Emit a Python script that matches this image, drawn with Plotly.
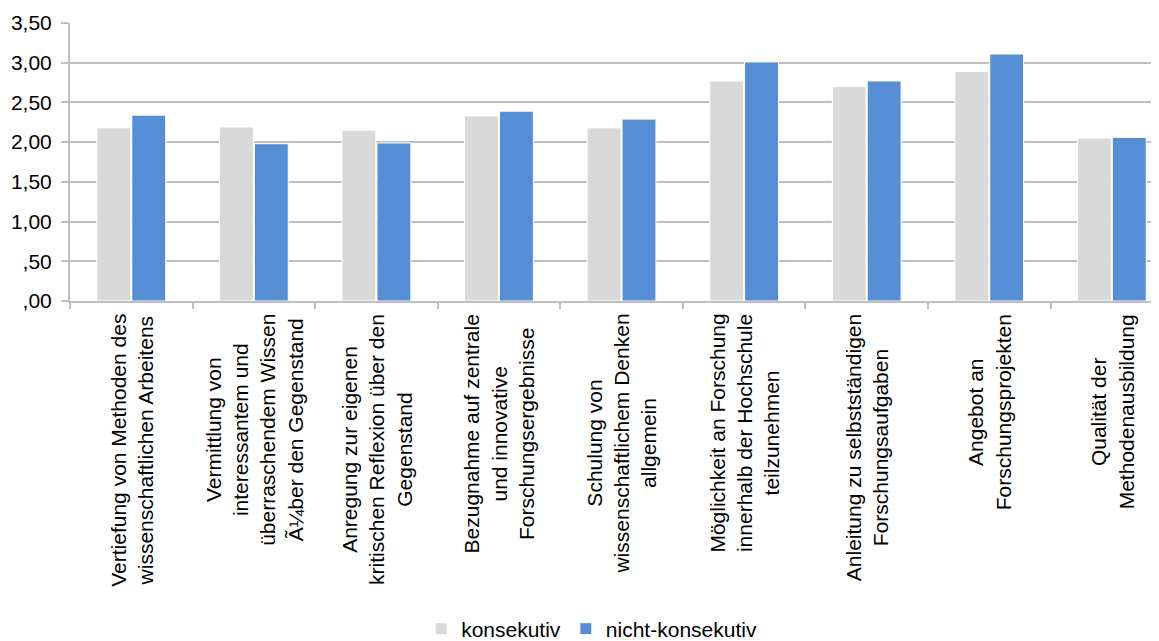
import plotly.graph_objects as go

categories = [
    "Vertiefung von Methoden des<br>wissenschaftlichen Arbeitens",
    "Vermittlung von<br>interessantem und<br>überraschendem Wissen<br>Ã¼ber den Gegenstand",
    "Anregung zur eigenen<br>kritischen Reflexion über den<br>Gegenstand",
    "Bezugnahme auf zentrale<br>und innovative<br>Forschungsergebnisse",
    "Schulung von<br>wissenschaftlichem Denken<br>allgemein",
    "Möglichkeit an Forschung<br>innerhalb der Hochschule<br>teilzunehmen",
    "Anleitung zu selbstständigen<br>Forschungsaufgaben",
    "Angebot an<br>Forschungsprojekten",
    "Qualität der<br>Methodenausbildung",
]
konsekutiv = [2.18, 2.19, 2.15, 2.33, 2.18, 2.77, 2.70, 2.89, 2.05]
nicht_konsekutiv = [2.34, 1.98, 1.99, 2.39, 2.29, 3.01, 2.77, 3.11, 2.06]

y_tickvals = [0, 0.5, 1.0, 1.5, 2.0, 2.5, 3.0, 3.5]
y_ticktext = [",00", ",50", "1,00", "1,50", "2,00", "2,50", "3,00", "3,50"]

FONT = "Liberation Sans, Arial, sans-serif"

fig = go.Figure()
fig.add_trace(go.Bar(x=categories, y=konsekutiv, name="konsekutiv",
                     marker=dict(color="#D9D9D9", line=dict(color="white", width=1))))
fig.add_trace(go.Bar(x=categories, y=nicht_konsekutiv, name="nicht-konsekutiv",
                     marker=dict(color="#558ED5", line=dict(color="white", width=1))))

for c in categories:
    fig.add_annotation(x=c, y=0, xref="x", yref="paper", text=c, textangle=-90,
                       showarrow=False, yanchor="top", xanchor="center", align="center",
                       yshift=-11, font=dict(family=FONT, size=21, color="black"))

# the page body has an 8px margin, so the figure is sized/offset accordingly
fig.update_layout(
    width=1151, height=633,
    margin=dict(l=62, r=0, t=15, b=340, autoexpand=False),
    paper_bgcolor="white", plot_bgcolor="white",
    barmode="group", bargap=0.43, bargroupgap=0.03,
    font=dict(family=FONT, size=20, color="black"),
    showlegend=True,
    legend=dict(orientation="h", x=0.479, xanchor="center", y=-1.18, yanchor="middle",
                font=dict(family=FONT, size=21, color="black"), itemwidth=30,
                traceorder="normal"),
    xaxis=dict(range=[-0.5, 8.385], showticklabels=False, ticks="outside", ticklen=6,
               tickcolor="#BFBFBF", tickwidth=2, tickson="boundaries",
               showline=True, linecolor="#BFBFBF", linewidth=2, showgrid=False),
    yaxis=dict(range=[0, 3.5], tickvals=y_tickvals, ticktext=y_ticktext,
               showgrid=True, gridcolor="#BFBFBF", gridwidth=2,
               showline=True, linecolor="#BFBFBF", linewidth=2,
               ticks="outside", ticklen=7, tickcolor="#BFBFBF", tickwidth=2,
               ticklabelstandoff=5,
               zeroline=False, tickfont=dict(family=FONT, size=21, color="black")),
)

fig.write_html("out.html")
